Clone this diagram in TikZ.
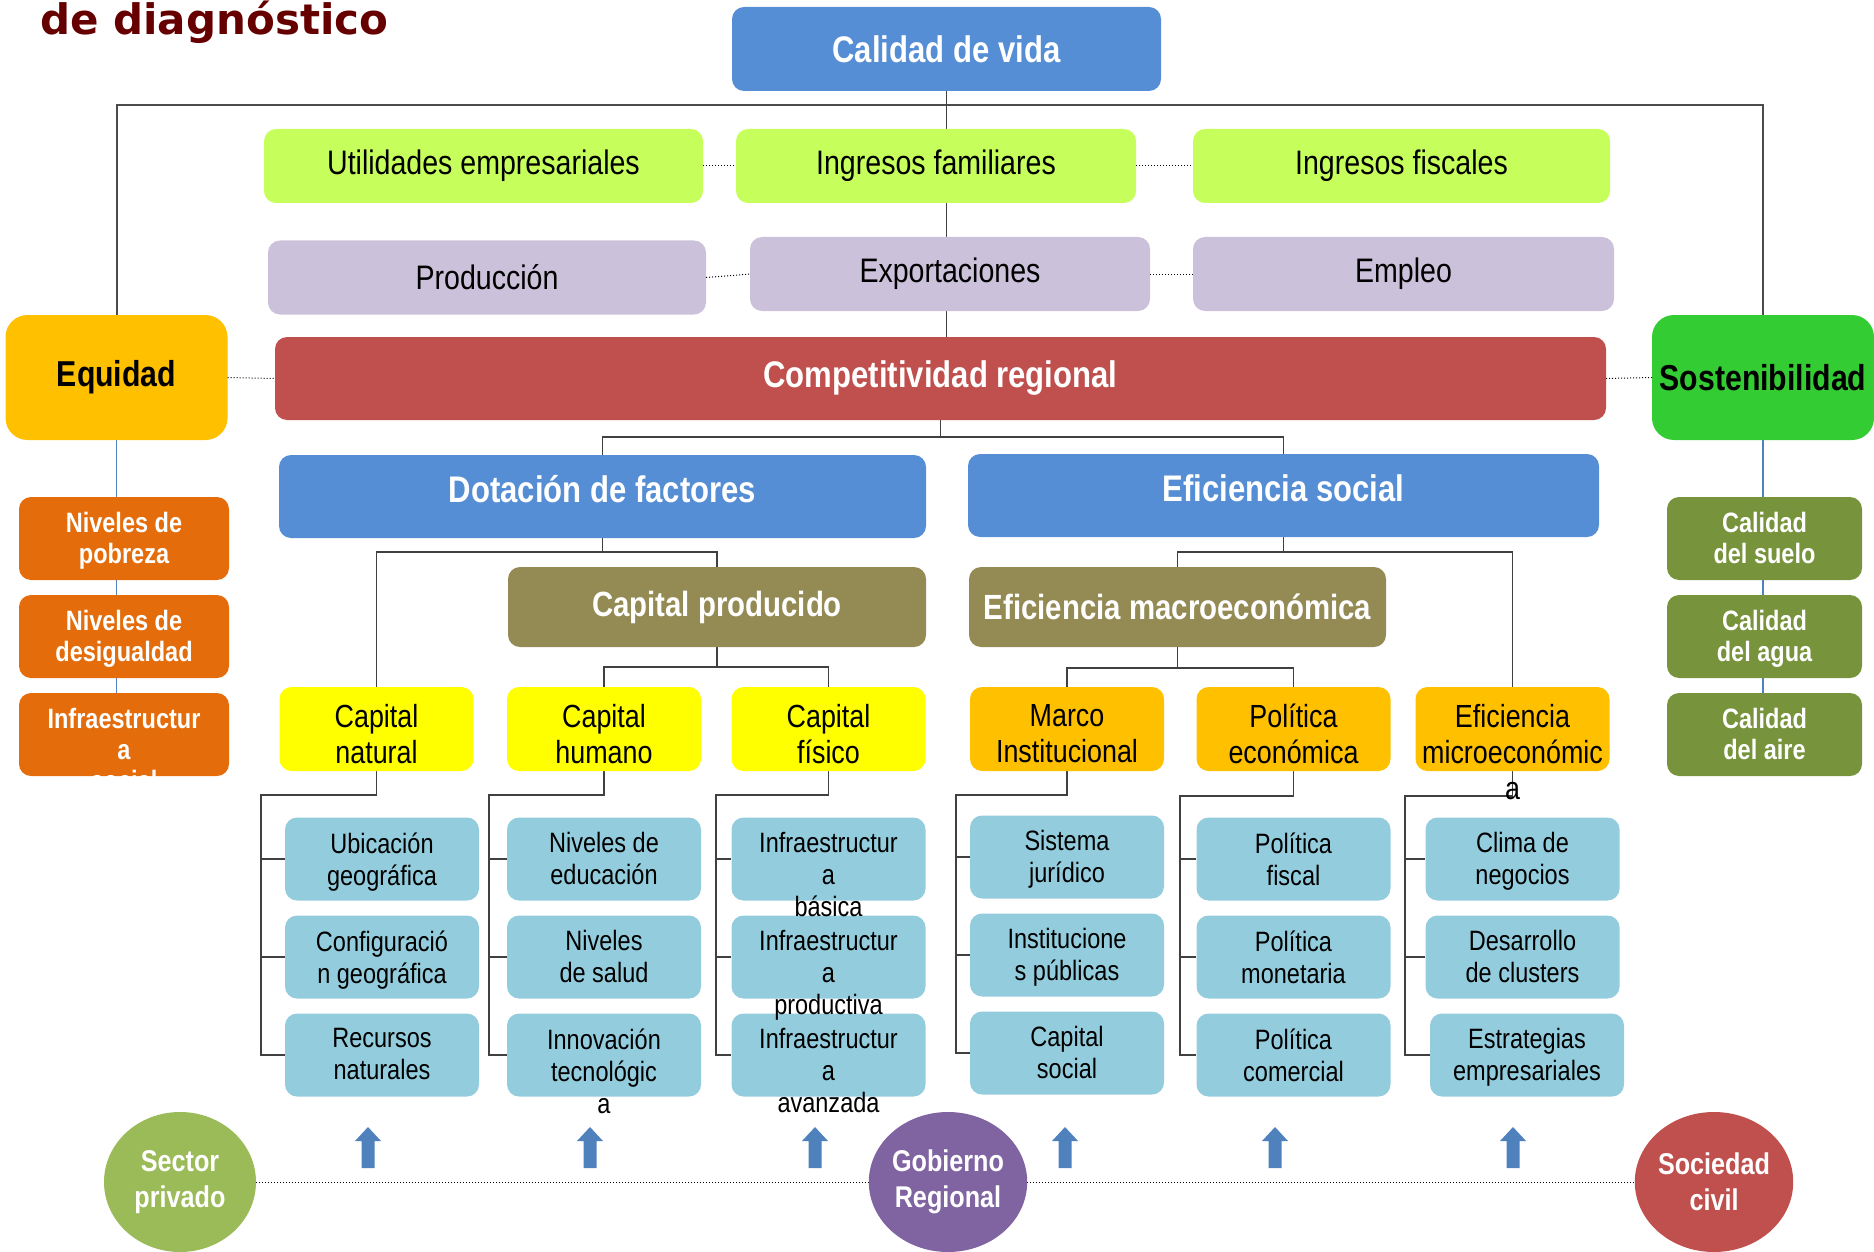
\documentclass[tikz,border=0pt]{standalone}
\usepackage{fontspec}
\setmainfont{Liberation Sans}[FakeStretch=0.84]
\newfontfamily\titlefont{DejaVu Sans}
\usetikzlibrary{shapes.geometric,backgrounds}

\definecolor{azul}{HTML}{558ED5}
\definecolor{limon}{HTML}{C6FF5C}
\definecolor{lila}{HTML}{CCC1DA}
\definecolor{ambar}{HTML}{FFC000}
\definecolor{rojo}{HTML}{C0504D}
\definecolor{verde}{HTML}{33CC33}
\definecolor{naranja}{HTML}{E46C0A}
\definecolor{oliva}{HTML}{77933C}
\definecolor{caqui}{HTML}{948A54}
\definecolor{amarillo}{HTML}{FFFF00}
\definecolor{celeste}{HTML}{93CDDD}
\definecolor{pistacho}{HTML}{9BBB59}
\definecolor{morado}{HTML}{8064A2}
\definecolor{flechaazul}{HTML}{4F81BD}
\definecolor{granate}{HTML}{660000}
\definecolor{linea}{HTML}{404040}

\tikzset{
  caja/.style={rounded corners=12pt, inner sep=0pt, align=center},
  raiz/.style={caja, fill=azul, text=white, font=\bfseries\fontsize{37}{42}\selectfont},
  ingreso/.style={caja, fill=limon, minimum height=74pt, font=\fontsize{34}{40}\selectfont},
  sector/.style={caja, fill=lila, minimum height=74pt, font=\fontsize{34}{40}\selectfont},
  pilar/.style={caja, rounded corners=22pt, minimum width=222pt, minimum height=125pt, font=\bfseries\fontsize{36}{42}\selectfont},
  nivel/.style={caja, fill=azul, text=white, minimum height=83pt, text height=30pt, text depth=18pt, font=\bfseries\fontsize{37}{42}\selectfont},
  medio/.style={caja, fill=caqui, text=white, minimum height=80pt, font=\bfseries\fontsize{35}{40}\selectfont},
  capbox/.style={caja, minimum width=194pt, minimum height=84pt},
  lateral/.style={caja, minimum height=83pt},
  hoja/.style={caja, fill=celeste, minimum width=194pt, minimum height=83pt},
  captxt/.style={align=center, inner sep=0pt, anchor=north, font=\fontsize{32}{36}\selectfont},
  hojatxt/.style={align=center, inner sep=0pt, anchor=north, font=\fontsize{28}{32}\selectfont},
  lattxt/.style={align=center, inner sep=0pt, anchor=north, text=white, font=\bfseries\fontsize{28}{31}\selectfont},
  actor/.style={ellipse, inner sep=0pt, minimum width=152pt, minimum height=140pt, align=center, text=white, font=\bfseries\fontsize{30}{36}\selectfont},
  enlace/.style={draw=linea, line width=1.5pt},
  contorno/.style={draw=black!70, line width=2pt},
  lazo/.style={draw=flechaazul, line width=1.5pt},
  punteo/.style={draw=black, line width=1pt, dotted},
}

\begin{document}
\begin{tikzpicture}[x=1pt, y=-1pt]
\useasboundingbox (0,0) rectangle (1874,1252);

\node[font=\titlefont\bfseries\fontsize{42}{48}\selectfont, text=granate, anchor=base west, inner sep=0pt] (titulo) at (40,35) {de diagnóstico};

\node[raiz, minimum width=429pt, minimum height=84pt] (cdv) at (946.5,49) {Calidad de vida};
\node[ingreso, minimum width=439pt] (util) at (483.5,166) {Utilidades empresariales};
\node[ingreso, minimum width=400pt] (ingfam) at (936,166) {Ingresos familiares};
\node[ingreso, minimum width=417pt] (ingfis) at (1401.5,166) {Ingresos fiscales};
\node[sector, minimum width=438pt] (prod) at (487,277.5) {Producción};
\node[sector, minimum width=400pt] (expo) at (950,274) {Exportaciones};
\node[sector, minimum width=421pt] (empl) at (1403.5,274) {Empleo};
\node[pilar, fill=ambar] (equi) at (116.5,377.5) {Equidad};
\node[caja, fill=rojo, text=white, minimum width=1331pt, minimum height=83pt, font=\bfseries\fontsize{37}{42}\selectfont] (comp) at (940.5,378.5) {Competitividad regional};
\node[pilar, fill=verde] (sost) at (1763,377.5) {Sostenibilidad};

\node[lateral, fill=naranja, minimum width=210pt] (pob) at (124,538.5) {};
\node[lateral, fill=naranja, minimum width=210pt] (desig) at (124,636.5) {};
\node[lateral, fill=naranja, minimum width=210pt] (infs) at (124,734.5) {};
\node[lateral, fill=oliva, minimum width=195pt] (suelo) at (1764.5,538.5) {};
\node[lateral, fill=oliva, minimum width=195pt] (agua) at (1764.5,636.5) {};
\node[lateral, fill=oliva, minimum width=195pt] (aire) at (1764.5,734.5) {};

\node[nivel, minimum width=647pt] (dot) at (602.5,496.5) {Dotación de factores};
\node[nivel, minimum width=631pt] (efs) at (1283.5,495.5) {Eficiencia social};
\node[medio, minimum width=418pt] (capprod) at (717,607) {Capital producido};
\node[medio, minimum width=417pt] (efmac) at (1177.5,607) {Eficiencia macroeconómica};

\node[capbox, fill=amarillo] (capnat) at (376.5,729) {};
\node[capbox, fill=amarillo] (caphum) at (604,729) {};
\node[capbox, fill=amarillo] (capfis) at (828.5,729) {};
\node[capbox, fill=ambar] (marco) at (1067,729) {};
\node[capbox, fill=ambar] (polec) at (1293.5,729) {};
\node[capbox, fill=ambar] (micro) at (1512.5,729) {};

\node[hoja] (ubic) at (382,859) {};
\node[hoja] (config) at (382,957) {};
\node[hoja] (recur) at (382,1055) {};
\node[hoja] (educ) at (604,859) {};
\node[hoja] (salud) at (604,957) {};
\node[hoja] (innov) at (604,1055) {};
\node[hoja] (infb) at (828.5,859) {};
\node[hoja] (infp) at (828.5,957) {};
\node[hoja] (infa) at (828.5,1055) {};
\node[hoja] (jur) at (1067,857) {};
\node[hoja] (inst) at (1067,955) {};
\node[hoja] (capsoc) at (1067,1053) {};
\node[hoja] (fisc) at (1293.5,859) {};
\node[hoja] (mone) at (1293.5,957) {};
\node[hoja] (come) at (1293.5,1055) {};
\node[hoja] (clima) at (1522.5,859) {};
\node[hoja] (clus) at (1522.5,957) {};
\node[hoja] (estr) at (1527,1055) {};

\node[actor, fill=pistacho] (sp) at (180,1182) {Sector\\privado};
\node[actor, fill=morado] (gob) at (948,1182) {Gobierno\\Regional};
\node[actor, fill=rojo] (soc) at (1714,1182) {Sociedad\\civil};

\begin{pgfonlayer}{background}
\coordinate (fr) at (946.5,105);
\draw[contorno] (equi.north) |- (fr) -| (sost.north);
\draw[enlace] (cdv.south) -- (cdv.south |- comp.north);
\draw[lazo] (equi.south) -- (equi.south |- infs.north);
\draw[lazo] (sost.south) -- (sost.south |- aire.north);
\coordinate (j1) at (940.5,437);
\draw[enlace] (comp.south) -- (j1);
\draw[enlace] (dot.north) |- (j1) -| (efs.north);
\coordinate (j2) at (602.5,552);
\draw[enlace] (dot.south) -- (j2);
\draw[enlace] (capnat.north) |- (j2) -| (capprod.north);
\coordinate (j3) at (717,667);
\draw[enlace] (capprod.south) -- (j3);
\draw[enlace] (caphum.north) |- (j3) -| (capfis.north);
\coordinate (j4) at (1283.5,552);
\draw[enlace] (efs.south) -- (j4);
\draw[enlace] (efmac.north) |- (j4) -| (micro.north);
\coordinate (j5) at (1177.5,668);
\draw[enlace] (efmac.south) -- (j5);
\draw[enlace] (marco.north) |- (j5) -| (polec.north);
\coordinate (b1) at (261,795);
\draw[enlace] (capnat.south) |- (b1) |- (recur.west);
\draw[enlace] (b1 |- ubic.west) -- (ubic.west);
\draw[enlace] (b1 |- config.west) -- (config.west);
\coordinate (b2) at (489,795);
\draw[enlace] (caphum.south) |- (b2) |- (innov.west);
\draw[enlace] (b2 |- educ.west) -- (educ.west);
\draw[enlace] (b2 |- salud.west) -- (salud.west);
\coordinate (b3) at (716,795);
\draw[enlace] (capfis.south) |- (b3) |- (infa.west);
\draw[enlace] (b3 |- infb.west) -- (infb.west);
\draw[enlace] (b3 |- infp.west) -- (infp.west);
\coordinate (b4) at (956,795);
\draw[enlace] (marco.south) |- (b4) |- (capsoc.west);
\draw[enlace] (b4 |- jur.west) -- (jur.west);
\draw[enlace] (b4 |- inst.west) -- (inst.west);
\coordinate (b5) at (1180,796);
\draw[enlace] (polec.south) |- (b5) |- (come.west);
\draw[enlace] (b5 |- fisc.west) -- (fisc.west);
\draw[enlace] (b5 |- mone.west) -- (mone.west);
\coordinate (b6) at (1405,796);
\draw[enlace] (micro.south) |- (b6) |- (estr.west);
\draw[enlace] (b6 |- clima.west) -- (clima.west);
\draw[enlace] (b6 |- clus.west) -- (clus.west);
\end{pgfonlayer}

\draw[punteo] (util.east) -- (ingfam.west);
\draw[punteo] (ingfam.east) -- (ingfis.west);
\draw[punteo] (prod.east) -- (expo.west);
\draw[punteo] (expo.east) -- (empl.west);
\draw[punteo] (equi.east) -- (comp.west);
\draw[punteo] (comp.east) -- (sost.west);
\draw[punteo] (sp.east) -- (gob.west);
\draw[punteo] (gob.east) -- (soc.west);

\node[lattxt] (pob-t) at ([yshift=-15pt]pob.north) {Niveles de\\pobreza};
\node[lattxt] (desig-t) at ([yshift=-15pt]desig.north) {Niveles de\\desigualdad};
\node[lattxt] (infs-t) at ([yshift=-15pt]infs.north) {Infraestructur\\a\\social};
\node[lattxt] (suelo-t) at ([yshift=-15pt]suelo.north) {Calidad\\del suelo};
\node[lattxt] (agua-t) at ([yshift=-15pt]agua.north) {Calidad\\del agua};
\node[lattxt] (aire-t) at ([yshift=-15pt]aire.north) {Calidad\\del aire};

\node[captxt] (capnat-t) at ([yshift=-17pt]capnat.north) {Capital\\natural};
\node[captxt] (caphum-t) at ([yshift=-17pt]caphum.north) {Capital\\humano};
\node[captxt] (capfis-t) at ([yshift=-17pt]capfis.north) {Capital\\físico};
\node[captxt] (marco-t) at ([yshift=-17pt]marco.north) {Marco\\Institucional};
\node[captxt] (polec-t) at ([yshift=-17pt]polec.north) {Política\\económica};
\node[captxt] (micro-t) at ([yshift=-17pt]micro.north) {Eficiencia\\microeconómic\\a};

\node[hojatxt] (ubic-t) at ([yshift=-15pt]ubic.north) {Ubicación\\geográfica};
\node[hojatxt] (config-t) at ([yshift=-15pt]config.north) {Configuració\\n geográfica};
\node[hojatxt] (recur-t) at ([yshift=-15pt]recur.north) {Recursos\\naturales};
\node[hojatxt] (educ-t) at ([yshift=-15pt]educ.north) {Niveles de\\educación};
\node[hojatxt] (salud-t) at ([yshift=-15pt]salud.north) {Niveles\\de salud};
\node[hojatxt] (innov-t) at ([yshift=-15pt]innov.north) {Innovación\\tecnológic\\a};
\node[hojatxt] (infb-t) at ([yshift=-15pt]infb.north) {Infraestructur\\a\\básica};
\node[hojatxt] (infp-t) at ([yshift=-15pt]infp.north) {Infraestructur\\a\\productiva};
\node[hojatxt] (infa-t) at ([yshift=-15pt]infa.north) {Infraestructur\\a\\avanzada};
\node[hojatxt] (jur-t) at ([yshift=-15pt]jur.north) {Sistema\\jurídico};
\node[hojatxt] (inst-t) at ([yshift=-15pt]inst.north) {Institucione\\s públicas};
\node[hojatxt] (capsoc-t) at ([yshift=-15pt]capsoc.north) {Capital\\social};
\node[hojatxt] (fisc-t) at ([yshift=-15pt]fisc.north) {Política\\fiscal};
\node[hojatxt] (mone-t) at ([yshift=-15pt]mone.north) {Política\\monetaria};
\node[hojatxt] (come-t) at ([yshift=-15pt]come.north) {Política\\comercial};
\node[hojatxt] (clima-t) at ([yshift=-15pt]clima.north) {Clima de\\negocios};
\node[hojatxt] (clus-t) at ([yshift=-15pt]clus.north) {Desarrollo\\de clusters};
\node[hojatxt] (estr-t) at ([yshift=-15pt]estr.north) {Estrategias\\empresariales};

\fill[flechaazul] (368,1127) -- ++(13,14) -- ++(-6.5,0) -- ++(0,27) -- ++(-13,0) -- ++(0,-27) -- ++(-6.5,0) -- cycle;
\fill[flechaazul] (590,1127) -- ++(13,14) -- ++(-6.5,0) -- ++(0,27) -- ++(-13,0) -- ++(0,-27) -- ++(-6.5,0) -- cycle;
\fill[flechaazul] (815,1127) -- ++(13,14) -- ++(-6.5,0) -- ++(0,27) -- ++(-13,0) -- ++(0,-27) -- ++(-6.5,0) -- cycle;
\fill[flechaazul] (1065,1127) -- ++(13,14) -- ++(-6.5,0) -- ++(0,27) -- ++(-13,0) -- ++(0,-27) -- ++(-6.5,0) -- cycle;
\fill[flechaazul] (1275,1127) -- ++(13,14) -- ++(-6.5,0) -- ++(0,27) -- ++(-13,0) -- ++(0,-27) -- ++(-6.5,0) -- cycle;
\fill[flechaazul] (1513,1127) -- ++(13,14) -- ++(-6.5,0) -- ++(0,27) -- ++(-13,0) -- ++(0,-27) -- ++(-6.5,0) -- cycle;
\end{tikzpicture}
\end{document}
